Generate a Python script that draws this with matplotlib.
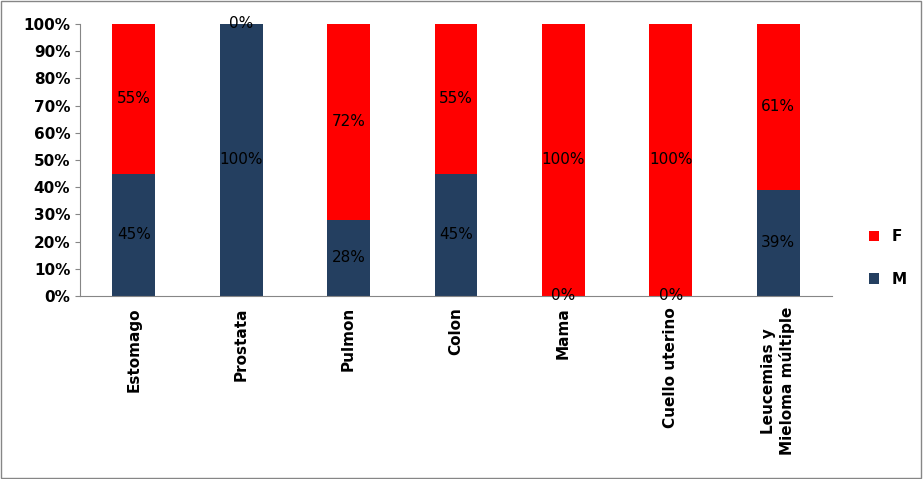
import matplotlib
matplotlib.use("Agg")
import matplotlib.pyplot as plt
from matplotlib.patches import Rectangle

categories = ["Estomago", "Prostata", "Pulmon", "Colon", "Mama", "Cuello uterino", "Leucemias y\nMieloma múltiple"]
m_vals = [45, 100, 28, 45, 0, 0, 39]
f_vals = [55, 0, 72, 55, 100, 100, 61]

fig = plt.figure(figsize=(9.23, 4.79), dpi=100)
ax = fig.add_axes([80/923, 1-296/479, 752/923, 272/479])
x = range(len(categories))
navy = "#243F60"
red = "#FF0000"
ax.bar(x, [v/100 for v in m_vals], width=0.4, color=navy, label="M")
ax.bar(x, [v/100 for v in f_vals], width=0.4, bottom=[v/100 for v in m_vals], color=red, label="F")
for i in x:
    ax.text(i, m_vals[i]/200, f"{m_vals[i]}%", ha="center", va="center", fontsize=11)
    ax.text(i, (m_vals[i] + f_vals[i]/2)/100, f"{f_vals[i]}%", ha="center", va="center", fontsize=11)
ax.set_xlim(-0.5, len(categories)-0.5)
ax.set_ylim(0, 1)
ax.set_yticks([i/10 for i in range(11)])
ax.set_yticklabels([f"{i*10}%" for i in range(11)], fontsize=11, fontweight="bold")
ax.set_xticks(list(x))
ax.set_xticklabels(categories, rotation=90, fontsize=11, fontweight="bold")
for s in ["top", "right"]:
    ax.spines[s].set_visible(False)
for s in ["left", "bottom"]:
    ax.spines[s].set_color("#868686")
ax.tick_params(axis="x", length=0, pad=8)
ax.tick_params(axis="y", color="#868686")
h, l = ax.get_legend_handles_labels()
fig.legend(h[::-1], l[::-1], loc="center left", bbox_to_anchor=(855/923, 1-258/479), frameon=False,
           prop={"size": 11, "weight": "bold"}, handlelength=0.7, handleheight=0.7, labelspacing=1.8)
fig.patches.append(Rectangle((0.001, 0.002), 0.997, 0.995, transform=fig.transFigure, fill=False, edgecolor="#868686", lw=1))
fig.savefig("out.png", dpi=100)
